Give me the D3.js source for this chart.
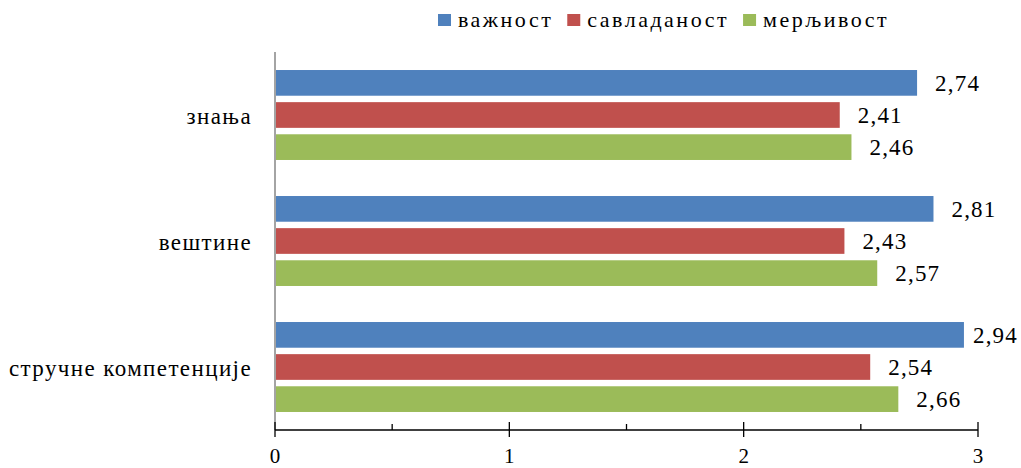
<!DOCTYPE html>
<html>
<head>
<meta charset="utf-8">
<script src="https://cdn.jsdelivr.net/npm/d3@7"></script>
<style>
  html, body { margin: 0; padding: 0; background: #fff; }
  svg { display: block; }
</style>
</head>
<body>
<svg id="chart" width="1021" height="468"></svg>
<script>
const categories = ["знања", "вештине", "стручне компетенције"];
const seriesNames = ["важност", "савладаност", "мерљивост"];
const seriesColors = ["#4F81BD", "#C0504D", "#9BBB59"];
const vaznost = [2.74, 2.81, 2.94];
const savladanost = [2.41, 2.43, 2.54];
const merljivost = [2.46, 2.57, 2.66];
const majorTicks = [0, 1, 2, 3];
const minorTicks = [0.5, 1.5, 2.5];

const seriesValues = [vaznost, savladanost, merljivost];
const FONT = "'Liberation Serif', 'Times New Roman', 'DejaVu Serif', serif";

const svg = d3.select("#chart");
const W = 1021;
const plotLeft = 275, plotRight = 978, plotTop = 52, plotBottom = 430;

const x = d3.scaleLinear().domain([0, 3]).range([plotLeft, plotRight]);
const y0 = d3.scaleBand().domain(categories).range([plotTop, plotBottom]).paddingInner(0.286).paddingOuter(0.143);
const y1 = d3.scaleBand().domain(seriesNames).range([0, y0.bandwidth()]).paddingInner(0.2).paddingOuter(0);

// bars
categories.forEach((cat, ci) => {
  seriesNames.forEach((s, si) => {
    const v = seriesValues[si][ci];
    const yy = y0(cat) + y1(s);
    svg.append("rect")
      .attr("x", x(0) + 1)
      .attr("y", yy)
      .attr("width", x(v) - x(0) - 1)
      .attr("height", y1.bandwidth())
      .attr("fill", seriesColors[si]);
    const lbl = svg.append("text")
      .attr("x", x(v) + 18)
      .attr("y", yy + y1.bandwidth() / 2)
      .attr("dy", "0.35em")
      .attr("font-family", FONT)
      .attr("font-size", 23)
      .attr("letter-spacing", "1.2px")
      .text(v.toFixed(2).replace(".", ","));
    // keep label inside chart area, like the original
    const len = lbl.node().getComputedTextLength();
    const maxX = W - 3 - len;
    if (x(v) + 18 > maxX) lbl.attr("x", maxX);
  });
  svg.append("text")
    .attr("x", 252)
    .attr("y", y0(cat) + y0.bandwidth() / 2)
    .attr("dy", "0.38em")
    .attr("text-anchor", "end")
    .attr("font-family", FONT)
    .attr("font-size", 23)
    .attr("letter-spacing", "1.4px")
    .text(cat);
});

// vertical axis line
svg.append("line")
  .attr("x1", x(0)).attr("x2", x(0))
  .attr("y1", plotTop).attr("y2", plotBottom)
  .attr("stroke", "#868686").attr("stroke-width", 1.5);

// horizontal axis
const axisG = svg.append("g");
axisG.append("line")
  .attr("x1", x(0)).attr("x2", x(3))
  .attr("y1", plotBottom).attr("y2", plotBottom)
  .attr("stroke", "#000").attr("stroke-width", 1.3);
axisG.selectAll(".major").data(majorTicks).enter().append("line")
  .attr("x1", d => x(d)).attr("x2", d => x(d))
  .attr("y1", plotBottom - 8).attr("y2", plotBottom + 7)
  .attr("stroke", "#000").attr("stroke-width", 1.3);
axisG.selectAll(".minor").data(minorTicks).enter().append("line")
  .attr("x1", d => x(d)).attr("x2", d => x(d))
  .attr("y1", plotBottom - 6).attr("y2", plotBottom)
  .attr("stroke", "#000").attr("stroke-width", 1.3);
axisG.selectAll(".lbl").data(majorTicks).enter().append("text")
  .attr("x", d => x(d))
  .attr("y", 463)
  .attr("text-anchor", "middle")
  .attr("font-family", FONT)
  .attr("font-size", 21)
  .text(d => d);

// legend
let lx = 438;
seriesNames.forEach((s, i) => {
  svg.append("rect")
    .attr("x", lx).attr("y", 14).attr("width", 13).attr("height", 12)
    .attr("fill", seriesColors[i]);
  const t = svg.append("text")
    .attr("x", lx + 20)
    .attr("y", 27)
    .attr("font-family", FONT)
    .attr("font-size", 22)
    .attr("letter-spacing", "2.5px")
    .text(s);
  lx += 20 + t.node().getComputedTextLength() + 14;
});
</script>
</body>
</html>
